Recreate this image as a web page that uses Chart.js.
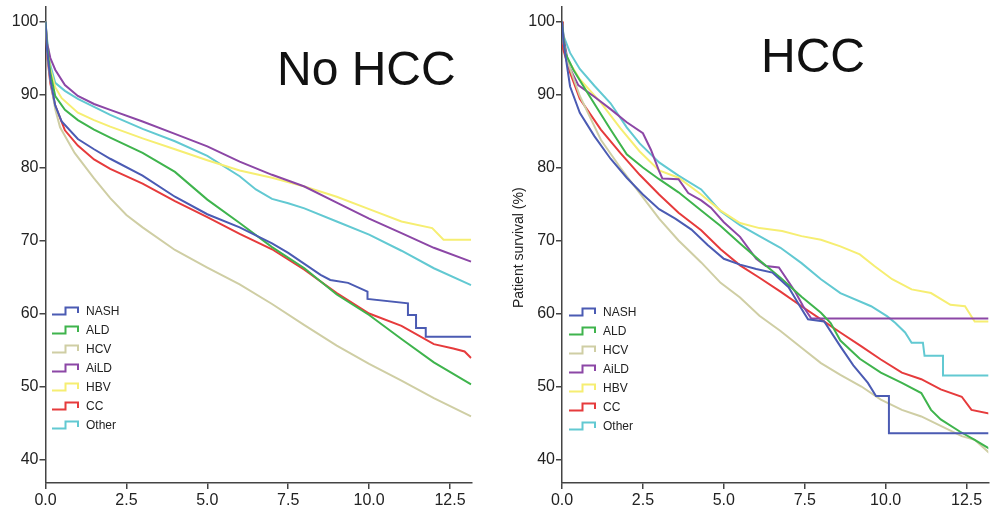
<!DOCTYPE html>
<html>
<head>
<meta charset="utf-8">
<script src="https://cdn.jsdelivr.net/npm/chart.js@4.4.1/dist/chart.umd.min.js"></script>
<style>
  body { margin: 0; background: #fff; width: 990px; height: 513px; position: relative; overflow: hidden;
         font-family: "Liberation Sans", Arial, Helvetica, sans-serif; }
  canvas { position: absolute; top: 0; }
  #chart-left { left: 0; }
  #chart-right { left: 500px; }
  .panel-title { position: absolute; font-size: 48px; line-height: 1; color: #111; white-space: nowrap; }
  .legend { position: absolute; font-size: 12px; color: #222; }
  .legend-row { height: 19px; display: flex; align-items: center; }
  .legend-row svg { margin-right: 6px; }
  .y-title { position: absolute; font-size: 14px; color: #222; white-space: nowrap;
             transform-origin: left top; transform: rotate(-90deg); }
</style>
</head>
<body>
<canvas id="chart-left" width="480" height="513"></canvas>
<canvas id="chart-right" width="490" height="513"></canvas>
<div class="panel-title" style="left:277px; top:45px;">No HCC</div>
<div class="panel-title" style="left:761px; top:32px;">HCC</div>
<div class="y-title" style="left:510px; top:308px;">Patient survival (%)</div>
<div class="legend" id="legend-left" style="left:52px; top:301px;"></div>
<div class="legend" id="legend-right" style="left:569px; top:302px;"></div>

<script>
// Kaplan-Meier style survival curves: [years, survival %]
const seriesNames = ['NASH', 'ALD', 'HCV', 'AiLD', 'HBV', 'CC', 'Other'];
const seriesColors = ['#4b5bb3', '#3fb44d', '#cfcea4', '#8c47a6', '#f6ee72', '#e63b3c', '#62c9d2'];

const xTicks = [0, 2.5, 5, 7.5, 10, 12.5];
const yTicks = [40, 50, 60, 70, 80, 90, 100];

// No HCC panel
const noHccNash = [[0,100],[0.05,96],[0.15,92],[0.3,88.5],[0.5,86.3],[1,83.9],[1.5,82.5],[2,81.2],[3,78.9],[4,76],[5,73.6],[6,71.8],[7,69.6],[7.5,68.3],[8,66.8],[8.5,65.3],[8.8,64.6],[9.35,64.2],[9.95,63.0],[9.95,62.0],[11.2,61.4],[11.2,59.8],[11.45,59.8],[11.45,58.0],[11.75,58.0],[11.75,56.8],[13.15,56.8]];
const noHccAld = [[0,100],[0.05,96.5],[0.15,93],[0.3,89.8],[0.6,87.9],[1,86.5],[1.5,85.2],[2,84.1],[3,82],[4,79.4],[5,75.6],[6,72.4],[7,69.1],[8,66.2],[9,62.6],[10,59.8],[11,56.5],[12,53.3],[13.15,50.3]];
const noHccHcv = [[0,100],[0.05,96],[0.15,92],[0.3,88],[0.45,85.5],[0.9,82],[1.5,78.5],[2,75.8],[2.5,73.5],[3,71.8],[4,68.7],[5,66.3],[6,64],[7,61.3],[8,58.4],[9,55.6],[10,53.1],[11,50.8],[12,48.4],[13.15,45.9]];
const noHccAild = [[0,100],[0.05,97],[0.15,95],[0.3,93.4],[0.6,91.3],[1,89.8],[1.5,88.7],[2,87.9],[3,86.3],[4,84.6],[5,82.9],[6,80.8],[7,79],[8,77.4],[9,75.2],[10,73],[11,71],[12,69],[13.15,67.1]];
const noHccHbv = [[0,100],[0.05,97],[0.15,93.5],[0.3,91],[0.5,89.5],[1,87.5],[1.5,86.5],[2,85.6],[3,84],[4,82.5],[5,81],[6,79.6],[7,78.6],[8,77.4],[9,76],[10,74.3],[11,72.6],[11.95,71.7],[12.3,70.1],[13.15,70.1]];
const noHccCc = [[0,100],[0.05,95.5],[0.15,91.5],[0.3,88.5],[0.6,85.1],[1,83],[1.5,81.1],[2,79.8],[3,77.8],[4,75.4],[5,73.2],[6,70.9],[7,68.8],[8,66],[9,62.8],[10,60],[11,58.3],[12,55.8],[12.6,55.2],[12.95,54.8],[13.15,53.9]];
const noHccOther = [[0,100],[0.05,97.5],[0.15,94],[0.3,91.6],[0.6,90.5],[1,89.4],[1.5,88.3],[2,87.2],[3,85.3],[4,83.6],[5,81.6],[6,78.8],[6.5,77],[7,75.7],[7.5,75.1],[8,74.4],[9,72.6],[10,70.8],[11,68.6],[12,66.2],[13.15,63.9]];

// HCC panel
const hccNash = [[0,100],[0.05,97],[0.1,95.5],[0.25,91.1],[0.55,87.5],[1,84.3],[1.5,81.2],[2,78.6],[2.5,76.3],[3,74.3],[3.5,73],[4,71.5],[4.5,69.4],[5,67.5],[5.5,66.7],[6,66.1],[6.5,65.6],[7,63.6],[7.35,61],[7.6,59.2],[8.1,58.9],[8.6,55.5],[9,52.9],[9.45,50.5],[9.7,48.7],[10.1,48.7],[10.1,43.6],[13.2,43.6],[13.2,37.3]];
const hccAld = [[0,100],[0.05,97.5],[0.1,95.7],[0.35,93.4],[0.85,89.8],[1.5,85.2],[2,81.8],[2.5,80],[3,78.4],[3.6,76.6],[4.3,74.1],[4.9,72],[5.5,69.6],[6.1,67.3],[6.75,64.9],[7.4,62.3],[8,60.1],[8.3,58.7],[8.6,56.3],[9.2,53.8],[9.85,51.9],[10.5,50.5],[11.1,49.1],[11.4,46.8],[11.7,45.5],[12.3,43.8],[12.75,42.7],[13.2,41.5]];
const hccHcv = [[0,100],[0.05,97],[0.15,94.8],[0.55,89.8],[1.2,83.8],[1.8,80],[2.4,76.5],[3,73],[3.6,70],[4.3,67],[4.9,64.2],[5.5,62.2],[6.1,59.7],[6.75,57.6],[7.4,55.3],[8,53.2],[8.6,51.6],[9.25,50],[9.85,48.2],[10.5,46.8],[11.1,45.9],[11.7,44.6],[12.35,43.2],[12.75,42.7],[13.2,40.9]];
const hccAild = [[0,100],[0.05,97.8],[0.2,94],[0.5,91.3],[1,89.7],[1.5,88],[2,86.2],[2.5,84.7],[2.75,82.4],[3,79.5],[3.1,78.5],[3.6,78.4],[3.9,76.5],[4.3,75.5],[4.6,74.5],[5,72.5],[5.5,70.5],[6,67.5],[6.3,66.5],[6.7,66.3],[6.9,65],[7.2,63],[7.45,61],[7.7,59.3],[13.2,59.3]];
const hccHbv = [[0,100],[0.05,97.5],[0.15,95],[0.55,92.1],[1.2,88.9],[1.8,85.4],[2.4,82.2],[3,79.6],[3.6,78.6],[4.3,76.3],[4.9,74.1],[5.5,72.4],[6.1,71.7],[6.8,71.3],[7.4,70.6],[8,70.1],[8.6,69.2],[9.2,68.1],[9.65,66.5],[10.2,64.7],[10.8,63.3],[11.4,62.8],[12,61.2],[12.45,61],[12.65,59.6],[12.75,58.9],[13.2,58.9]];
const hccCc = [[0,100],[0.03,96.3],[0.25,93],[0.55,89.4],[1.2,85.2],[1.8,82],[2.4,79],[3,76.3],[3.6,73.8],[4.3,71.4],[4.9,68.8],[5.5,66.6],[6.1,64.9],[6.75,63],[7.4,61],[8,59.2],[8.6,57.4],[9.25,55.5],[9.85,53.7],[10.5,51.9],[11.1,51],[11.7,49.6],[12.35,48.6],[12.65,46.8],[13.2,46.3]];
const hccOther = [[0,100],[0.05,98],[0.25,95.7],[0.55,93.5],[1,91.2],[1.5,88.8],[2,85.5],[2.4,83.3],[3,80.7],[3.6,78.9],[4.3,77],[4.9,74],[5.5,72.1],[6.1,70.6],[6.75,69],[7.4,66.9],[8,64.7],[8.6,62.8],[9.55,61],[10.05,59.6],[10.3,58.7],[10.6,57.4],[10.8,56],[11.15,56],[11.2,54.2],[11.77,54.2],[11.77,51.5],[13.2,51.5]];

const noHccSeries = [noHccNash, noHccAld, noHccHcv, noHccAild, noHccHbv, noHccCc, noHccOther];
const hccSeries = [hccNash, hccAld, hccHcv, hccAild, hccHbv, hccCc, hccOther];

const axisColor = '#444';
const tickFont = { family: '"Liberation Sans", Arial, sans-serif', size: 16 };

function buildDatasets(series) {
  return series.map((points, i) => ({
    label: seriesNames[i],
    data: points.map(p => ({ x: p[0], y: p[1] })),
    borderColor: seriesColors[i],
    backgroundColor: seriesColors[i],
    borderWidth: 2,
    pointRadius: 0,
    tension: 0,
    fill: false
  }));
}

function makeChart(canvasId, series, axisWidth, padRight) {
  const ctx = document.getElementById(canvasId).getContext('2d');
  return new Chart(ctx, {
    type: 'line',
    data: { datasets: buildDatasets(series) },
    options: {
      responsive: false,
      animation: false,
      layout: { padding: { top: 7, right: padRight, bottom: 0, left: 0 } },
      plugins: { legend: { display: false }, tooltip: { enabled: false } },
      scales: {
        x: {
          type: 'linear',
          min: 0,
          max: 13.17,
          afterBuildTicks: s => { s.ticks = xTicks.map(v => ({ value: v })); },
          afterFit: s => { s.height = 30; s.paddingLeft = 0; s.paddingRight = 0; },
          ticks: { callback: v => v.toFixed(1), font: tickFont, color: '#222', padding: 2, maxRotation: 0, autoSkip: false },
          grid: { drawOnChartArea: false, drawTicks: true, tickLength: 6, color: axisColor, lineWidth: 1.5 },
          border: { display: true, color: axisColor, width: 1.5 }
        },
        y: {
          type: 'linear',
          min: 36.78,
          max: 101.99,
          afterBuildTicks: s => { s.ticks = yTicks.map(v => ({ value: v })); },
          afterFit: s => { s.width = axisWidth; s.paddingTop = 0; s.paddingBottom = 0; },
          ticks: { callback: v => String(v), font: tickFont, color: '#222', padding: 1 },
          grid: { drawOnChartArea: false, drawTicks: true, tickLength: 6, color: axisColor, lineWidth: 1.5 },
          border: { display: true, color: axisColor, width: 1.5 }
        }
      }
    }
  });
}

function buildLegend(id) {
  const box = document.getElementById(id);
  box.innerHTML = seriesNames.map((name, i) => `
    <div class="legend-row">
      <svg width="28" height="12"><path d="M0,9.5 H13.5 V2.5 H26 V8" fill="none" stroke="${seriesColors[i]}" stroke-width="2"/></svg>
      <span>${name}</span>
    </div>`).join('');
}

makeChart('chart-left', noHccSeries, 45.5, 8.3);
makeChart('chart-right', hccSeries, 62, 1.7);
buildLegend('legend-left');
buildLegend('legend-right');
</script>
</body>
</html>
